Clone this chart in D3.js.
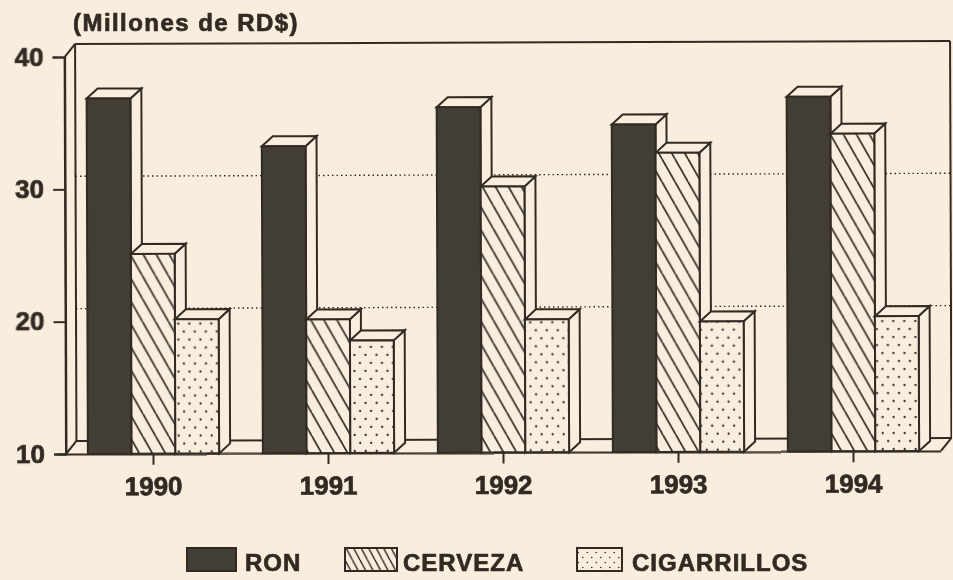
<!DOCTYPE html>
<html><head><meta charset="utf-8">
<style>html,body{margin:0;padding:0;background:#f9eddd;overflow:hidden}svg{display:block}
text{font-family:"Liberation Sans",Arial,sans-serif;font-weight:700;fill:#332c24;stroke:#332c24;stroke-width:0.7px}</style>
<script src="https://cdn.jsdelivr.net/npm/d3@7"></script></head><body>
<script>
const years = ["1990","1991","1992","1993","1994"];
const seriesNames = ["RON","CERVEZA","CIGARRILLOS"];
const ron = [36.85, 33.2, 36.1, 34.75, 36.8];
const cerveza = [25.1, 20.1, 30.1, 32.6, 34];
const cigarrillos = [20.15, 18.5, 20.05, 19.85, 20.2];
const yTicks = [10,20,30,40];
const gridTicks = [20,30];
const yLabel = "(Millones de RD$)";

const W=953,H=580, ink="#332c24", paper="#f9eddd", dark="#423c35";
const svg=d3.select("body").append("svg").attr("width",W).attr("height",H);
const defs=svg.append("defs");
defs.append("filter").attr("id","scan").attr("x",0).attr("y",0).attr("width",1).attr("height",1)
  .append("feGaussianBlur").attr("stdDeviation",0.45);
function addHatch(id,w,h,sw){
  const p=defs.append("pattern").attr("id",id).attr("patternUnits","userSpaceOnUse").attr("width",w).attr("height",h);
  p.append("rect").attr("width",w).attr("height",h).attr("fill",paper);
  [-w,0,w].forEach(dx=>p.append("line").attr("x1",dx).attr("y1",0).attr("x2",dx+w).attr("y2",h)
    .attr("stroke",ink).attr("stroke-width",sw));
}
function addDots(id,w,h,r){
  const p=defs.append("pattern").attr("id",id).attr("patternUnits","userSpaceOnUse").attr("width",w).attr("height",h);
  p.append("rect").attr("width",w).attr("height",h).attr("fill",paper);
  [[w/4,h/4],[3*w/4,3*h/4]].forEach(([x,y])=>p.append("circle").attr("cx",x).attr("cy",y).attr("r",r).attr("fill",ink));
}
addHatch("hatch",13,23,1.7);
addHatch("hatchL",7.5,14,1.4);
addDots("dots",11,16,1.15);
addDots("dotsL",9,10,0.8);
const fills=[dark,"url(#hatch)","url(#dots)"];
const legendFills=[dark,"url(#hatchL)","url(#dotsL)"];

const root=svg.append("g").attr("filter","url(#scan)");
const plot=root.append("g").attr("transform","rotate(-0.2 66 454)");

const x=d3.scaleBand().domain(years).range([66,941]).paddingInner(0.25).paddingOuter(0.125);
const xs=d3.scaleBand().domain(seriesNames).range([0,x.bandwidth()]);
const y=d3.scaleLinear().domain([10,40]).range([454,57]);
const wall={dx:10.5,dy:13}, bar={dx:11,dy:10};
const values=[ron,cerveza,cigarrillos];

// back wall + floor
const line=(a,b,c,d)=>plot.append("line").attr("x1",a).attr("y1",b).attr("x2",c).attr("y2",d)
  .attr("stroke",ink).attr("stroke-width",2);
const xL=x.range()[0], xR=x.range()[1], y0=y(10), yT=y(40);
line(xL,y0,xL,yT);
line(xL,yT,xL+wall.dx,yT-wall.dy);
line(xL+wall.dx,y0-wall.dy,xL+wall.dx,yT-wall.dy);
line(xL+wall.dx,yT-wall.dy,xR+wall.dx,yT-wall.dy);
line(xR+wall.dx,yT-wall.dy,xR+wall.dx,y0-wall.dy);
line(xL+wall.dx,y0-wall.dy,xR+wall.dx,y0-wall.dy);
line(xL,y0,xL+wall.dx,y0-wall.dy);
line(xR,y0,xR+wall.dx,y0-wall.dy);
gridTicks.forEach(t=>plot.append("line").attr("x1",xL+wall.dx).attr("x2",xR+wall.dx)
  .attr("y1",y(t)-wall.dy).attr("y2",y(t)-wall.dy)
  .attr("stroke",ink).attr("stroke-width",1.4).attr("stroke-dasharray","1.5 3"));

// bars
years.forEach((yr,i)=>{
  seriesNames.forEach((s,k)=>{
    const v=values[k][i], bx=x(yr)+xs(s), w=xs.bandwidth(), t=y(v), b=y(10);
    const g=plot.append("g").attr("stroke",ink).attr("stroke-width",2).attr("stroke-linejoin","miter");
    g.append("path").attr("fill",paper)
      .attr("d",`M${bx+w},${t}L${bx+w+bar.dx},${t-bar.dy}V${b-bar.dy}L${bx+w},${b}Z`);
    g.append("path").attr("fill",paper)
      .attr("d",`M${bx},${t}L${bx+bar.dx},${t-bar.dy}H${bx+w+bar.dx}L${bx+w},${t}Z`);
    g.append("rect").attr("x",bx).attr("y",t).attr("width",w).attr("height",b-t).attr("fill",fills[k]);
  });
});

// axes
const axL=d3.axisLeft(y).tickValues(yTicks).tickSize(12).tickPadding(9).tickFormat(d3.format("d"));
const gL=plot.append("g").attr("transform",`translate(${xL},0)`).call(axL);
gL.select(".domain").attr("stroke",ink).attr("stroke-width",2);
gL.selectAll("line").attr("stroke",ink).attr("stroke-width",2);
gL.selectAll("text").attr("font-size",26).attr("fill",ink).style("font-family",'"Liberation Sans"').style("font-weight",700);

const axB=d3.axisBottom(x).tickSize(11).tickPadding(12);
const gB=plot.append("g").attr("transform",`translate(0,${y0})`).call(axB);
gB.select(".domain").attr("d",`M57,0.5H${xR}`).attr("stroke",ink).attr("stroke-width",2.2);
gB.selectAll("line").attr("stroke",ink).attr("stroke-width",2);
gB.selectAll("text").attr("font-size",26).attr("fill",ink).style("font-family",'"Liberation Sans"').style("font-weight",700);

// title
root.append("text").attr("x",73).attr("y",31).attr("font-size",24).attr("letter-spacing",1.45).text(yLabel);

// legend
const swatches=[[187,236],[345,397],[577,622]], labelX=[245,403,632];
seriesNames.forEach((s,k)=>{
  root.append("rect").attr("x",swatches[k][0]).attr("y",548).attr("width",swatches[k][1]-swatches[k][0]).attr("height",23)
    .attr("fill",legendFills[k]).attr("stroke",ink).attr("stroke-width",2);
  root.append("text").attr("x",labelX[k]).attr("y",571).attr("font-size",24).attr("letter-spacing",1).text(s);
});
</script></body></html>
